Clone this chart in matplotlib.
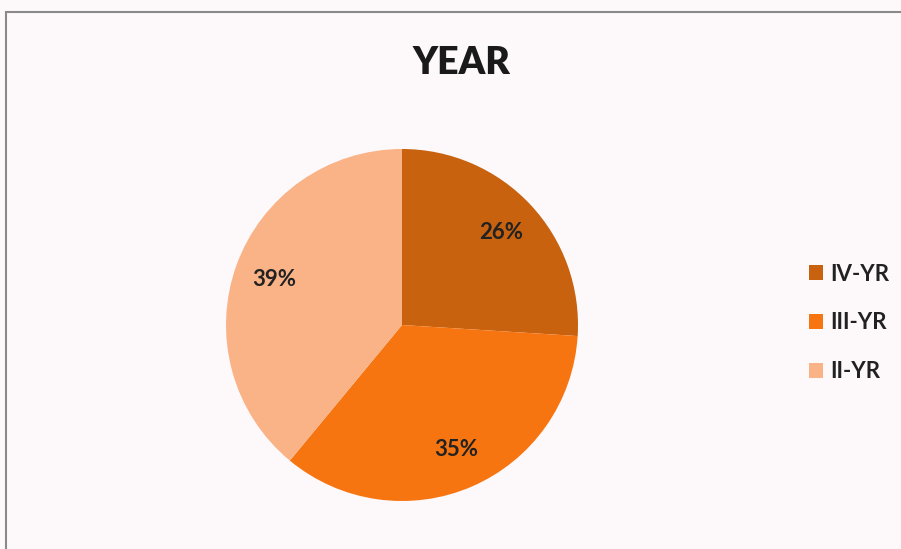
import matplotlib.pyplot as plt
from matplotlib.patches import Rectangle

# Data
labels = ['IV-YR', 'III-YR', 'II-YR']
shares = [26, 35, 39]
colors = ['#c8620f', '#f77510', '#f9b387']

plt.rcParams['font.family'] = ['Lato', 'DejaVu Sans']

fig = plt.figure(figsize=(9.01, 5.49), dpi=100, facecolor='#fdf9fb')

# chart border (gray frame, partly off the scanned image)
fig.patches.append(Rectangle((6 / 901, -0.05), 1.0, 1 - 12 / 549 + 0.05,
                             transform=fig.transFigure, fill=False,
                             edgecolor='#8a8a8a', linewidth=1.5))

# pie axes: centre (402, 325) px, radius ~176 px
r = 176
cx, cy = 402, 325
ax = fig.add_axes([(cx - r) / 901, 1 - (cy + r) / 549, 2 * r / 901, 2 * r / 549])
ax.set_facecolor('none')

wedges, texts, autotexts = ax.pie(shares, colors=colors, startangle=90,
                                  counterclock=False, autopct='%d%%',
                                  pctdistance=0.77,
                                  wedgeprops=dict(linewidth=0),
                                  textprops=dict(fontsize=16, fontweight='bold',
                                                 color='#222222'))
ax.set_xlim(-1, 1)
ax.set_ylim(-1, 1)
ax.set_aspect('equal')

fig.text(461 / 901, 1 - 63 / 549, 'YEAR', ha='center', va='center',
         fontsize=27, fontweight='heavy', color='#1a1a1a')

fig.legend(wedges, labels, loc='center left', bbox_to_anchor=(789 / 901, 1 - 323 / 549),
           frameon=False, handlelength=0.65, handleheight=0.65,
           handletextpad=0.3, labelspacing=1.25,
           prop=dict(family='Lato', weight='bold', size=16))
for t in fig.legends[0].get_texts():
    t.set_color('#222222')

fig.savefig('out.png', dpi=100, facecolor=fig.get_facecolor())
